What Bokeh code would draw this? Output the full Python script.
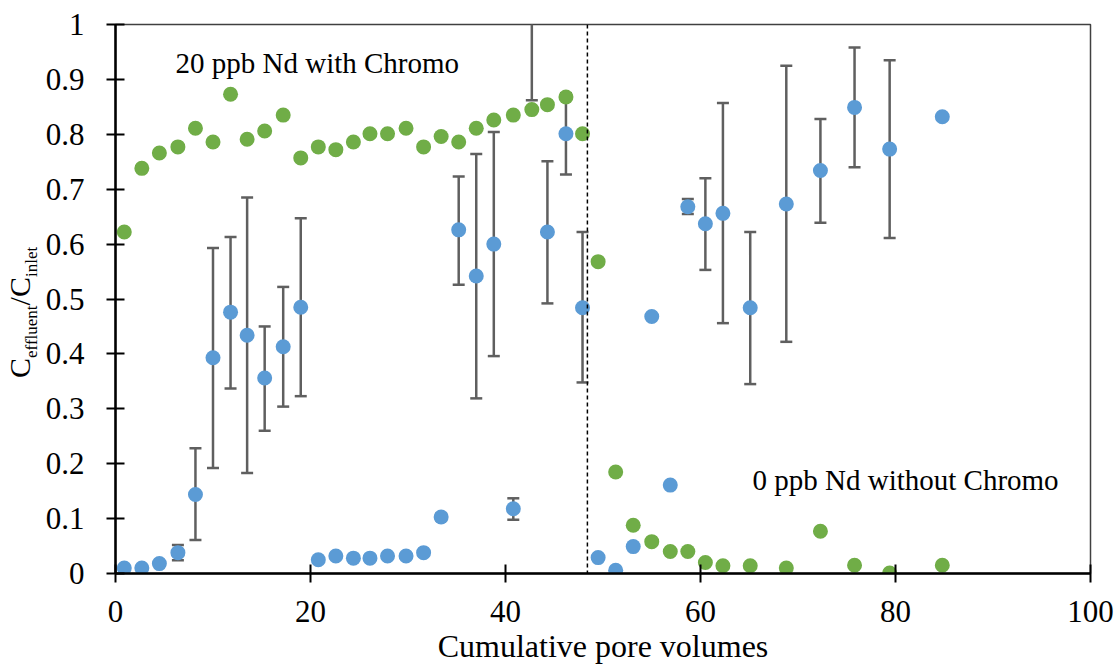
import math
from bokeh.plotting import figure
from bokeh.layouts import row
from bokeh.models import Range1d, FixedTicker, Label, Span, ColumnDataSource, Div
from bokeh.embed import file_html
from bokeh.resources import INLINE

NAN = float("nan")

# ---------------- data ----------------
pore_volumes = [0.9, 2.7, 4.5, 6.4, 8.2, 10.0, 11.8, 13.5, 15.3, 17.2, 19.0,
                20.8, 22.6, 24.4, 26.1, 27.9, 29.8, 31.6, 33.4, 35.2, 37.0,
                38.8, 40.8, 42.7, 44.3, 46.2, 47.9, 49.5, 51.3, 53.1, 55.0,
                56.9, 58.7, 60.5, 62.3, 65.1, 68.8, 72.3, 75.8, 79.4, 84.8]

green_ratio = [0.622, 0.738, 0.766, 0.777, 0.811, 0.786, 0.873, 0.791, 0.806,
               0.835, 0.757, 0.777, 0.772, 0.786, 0.801, 0.801, 0.811, 0.777,
               0.796, 0.786, 0.811, 0.826, 0.835, 0.845, 0.854, 0.868, 0.801,
               0.568, 0.185, 0.088, 0.058, 0.040, 0.040, 0.020, 0.014, 0.014,
               0.010, 0.077, 0.015, 0.001, 0.015]

blue_ratio = [0.010, 0.010, 0.018, 0.038, 0.144, 0.393, 0.476, 0.434, 0.356,
              0.413, 0.485, 0.025, 0.032, 0.028, 0.028, 0.032, 0.032, 0.038,
              0.103, 0.626, 0.542, 0.600, 0.118, 1.100, 0.622, 0.801, 0.484,
              0.029, 0.006, 0.049, 0.468, 0.161, 0.668, 0.637, 0.656, 0.484,
              0.673, 0.734, 0.849, 0.773, 0.832]

blue_lower = [NAN, NAN, NAN, 0.024, 0.061, 0.192, 0.337, 0.183, 0.260, 0.304,
              0.323, NAN, NAN, NAN, NAN, NAN, NAN, NAN, 0.097, 0.526, 0.319,
              0.396, 0.098, 0.862, 0.492, 0.727, 0.348, NAN, NAN, NAN, NAN,
              NAN, 0.655, 0.553, 0.456, 0.345, 0.422, 0.639, 0.740, 0.611, NAN]

blue_upper = [NAN, NAN, NAN, 0.052, 0.228, 0.593, 0.613, 0.685, 0.450, 0.522,
              0.647, NAN, NAN, NAN, NAN, NAN, NAN, NAN, 0.109, 0.723, 0.764,
              0.804, 0.137, 1.338, 0.751, 0.875, 0.622, NAN, NAN, NAN, NAN,
              NAN, 0.682, 0.720, 0.857, 0.622, 0.925, 0.828, 0.958, 0.935, NAN]

switch_point = 48.4

x_ticks = [0, 20, 40, 60, 80, 100]
x_tick_labels = ["0", "20", "40", "60", "80", "100"]
y_ticks = [0, 0.1, 0.2, 0.3, 0.4, 0.5, 0.6, 0.7, 0.8, 0.9, 1]
y_tick_labels = ["0", "0.1", "0.2", "0.3", "0.4", "0.5", "0.6", "0.7", "0.8", "0.9", "1"]

note_top = "20 ppb Nd with Chromo"
note_bottom = "0 ppb Nd without Chromo"
x_title = "Cumulative pore volumes"
y_title_main = "C"
y_title_sub1 = "effluent"
y_title_sub2 = "inlet"

# ---------------- style / layout ----------------
BLUE = "#5B9BD5"
GREEN = "#70AD47"
ERR = "#5f5f5f"
FONT = "Liberation Serif"

TOTAL_W, H = 1117, 666
SIDE_W = 40
FRAME_L, FRAME_R, FRAME_T, FRAME_H = 115, 1090, 24, 550
W = TOTAL_W - SIDE_W

p = figure(width=W, height=H, output_backend="svg", toolbar_location=None,
           x_range=Range1d(0, 100), y_range=Range1d(0, 1),
           min_border_left=FRAME_L - SIDE_W, min_border_right=TOTAL_W - FRAME_R,
           min_border_top=FRAME_T, min_border_bottom=H - FRAME_T - FRAME_H)
p.background_fill_color = "white"
p.border_fill_color = "white"
p.outline_line_color = "#404040"
p.outline_line_width = 1.5
p.grid.visible = False

p.axis.axis_line_color = "black"
p.axis.axis_line_width = 2.5
p.axis.major_tick_line_color = "black"
p.axis.major_tick_line_width = 2
p.axis.major_tick_in = 9
p.axis.major_tick_out = 9
p.axis.minor_tick_line_color = None
p.axis.major_label_text_font = FONT
p.axis.major_label_text_font_size = "31px"
p.axis.major_label_text_color = "black"

p.xaxis.ticker = FixedTicker(ticks=x_ticks)
p.xaxis.major_label_overrides = dict(zip(x_ticks, x_tick_labels))
p.xaxis.major_label_standoff = 18
p.xaxis.axis_label = x_title
p.xaxis.axis_label_text_font = FONT
p.xaxis.axis_label_text_font_size = "32px"
p.xaxis.axis_label_text_font_style = "normal"
p.xaxis.axis_label_text_color = "black"
p.xaxis.axis_label_standoff = 3

p.yaxis.ticker = FixedTicker(ticks=y_ticks)
p.yaxis.major_label_overrides = dict(zip(y_ticks, y_tick_labels))
p.yaxis.major_label_standoff = 22

src = ColumnDataSource(dict(x=pore_volumes, blue=blue_ratio, green=green_ratio,
                            lo=blue_lower, hi=blue_upper))

# error bars
p.segment(x0="x", y0="lo", x1="x", y1="hi", source=src,
          line_color=ERR, line_width=2.5)
p.scatter(x="x", y="lo", source=src, marker="dash", size=12,
          line_color=ERR, line_width=2.5)
p.scatter(x="x", y="hi", source=src, marker="dash", size=12,
          line_color=ERR, line_width=2.5)

# points
p.scatter(x="x", y="blue", source=src, size=15, fill_color=BLUE, line_color=None)
p.scatter(x="x", y="green", source=src, size=15, fill_color=GREEN, line_color=None)

p.add_layout(Span(location=switch_point, dimension="height", line_color="black",
                  line_width=1.5, line_dash="4 3"))

# page pixel -> data coordinates (for placing the two notes)
def dx(px):
    return (px - FRAME_L) / ((FRAME_R - FRAME_L) / 100)

def dy(py):
    return (FRAME_T + FRAME_H - py) / FRAME_H

p.add_layout(Label(x=dx(175), y=dy(63), text=note_top, text_font=FONT,
                   text_font_size="29px", text_color="black",
                   text_align="left", text_baseline="alphabetic"))
p.add_layout(Label(x=dx(752), y=dy(480), text=note_bottom, text_font=FONT,
                   text_font_size="29px", text_color="black",
                   text_align="left", text_baseline="alphabetic"))

# ---------------- rotated y title with real subscripts ----------------
sub_style = "font-size:17px;position:relative;top:7px;"
title_html = (
    f'<div style="position:relative;width:{SIDE_W}px;height:{H}px;overflow:visible;">'
    '<div style="position:absolute;left:5.4px;top:377.5px;'
    'transform:rotate(-90deg);transform-origin:0 0;white-space:nowrap;'
    f"font-family:'{FONT}';font-size:30px;line-height:1;color:black;margin:0;padding:0;\">"
    f'{y_title_main}<span style="{sub_style}">{y_title_sub1}</span>'
    f'/{y_title_main}<span style="{sub_style}">{y_title_sub2}</span>'
    '</div></div>'
)
side = Div(text=title_html, width=SIDE_W, height=H, margin=0)

layout = row(side, p, spacing=0)
open("out.html", "w").write(file_html(layout, INLINE))
